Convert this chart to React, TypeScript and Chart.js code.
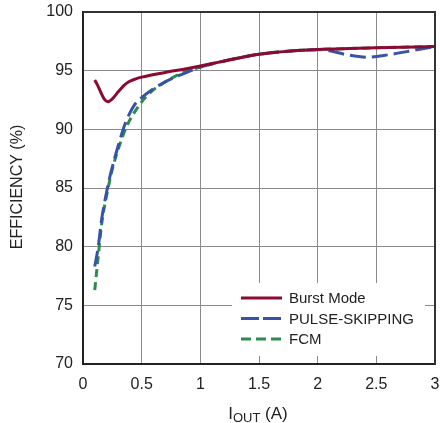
import React, { useEffect, useRef } from 'react';
import { Chart, registerables } from 'chart.js';

Chart.register(...registerables);

// ---- data ----
const xTickValues = [0, 0.5, 1, 1.5, 2, 2.5, 3];
const yTickValues = [70, 75, 80, 85, 90, 95, 100];

const seriesNames = ['Burst Mode', 'PULSE-SKIPPING', 'FCM'];

const burstX = [0.1, 0.125, 0.15, 0.18, 0.21, 0.25, 0.3, 0.35, 0.39, 0.45, 0.5, 0.7, 0.87, 1.0, 1.17, 1.5, 1.8, 2.0, 2.5, 3.0];
const burstY = [94.2, 93.75, 93.2, 92.6, 92.35, 92.6, 93.2, 93.75, 94.05, 94.3, 94.45, 94.85, 95.15, 95.4, 95.75, 96.4, 96.7, 96.8, 96.95, 97.05];

const pulseX = [0.1, 0.13, 0.16, 0.2, 0.23, 0.3, 0.36, 0.44, 0.5, 0.585, 0.7, 0.87, 1.0, 1.17, 1.5, 1.8, 2.0, 2.1, 2.25, 2.42, 2.6, 2.8, 3.0];
const pulseY = [78.3, 80.0, 82.4, 84.6, 86.0, 88.6, 90.5, 92.1, 92.7, 93.35, 94.05, 94.8, 95.3, 95.75, 96.4, 96.7, 96.8, 96.7, 96.35, 96.15, 96.35, 96.7, 97.05];

const fcmX = [0.1, 0.13, 0.16, 0.2, 0.25, 0.3, 0.37, 0.49, 0.58, 0.68, 0.8, 1.0, 1.17, 1.5, 1.8, 2.0, 2.5, 3.0];
const fcmY = [76.3, 79.2, 82.0, 84.3, 86.6, 88.3, 90.2, 92.2, 93.2, 93.9, 94.6, 95.3, 95.75, 96.4, 96.7, 96.8, 96.95, 97.05];

const yTitleText = 'EFFICIENCY (%)';
const xTitleMain = 'I';
const xTitleSub = 'OUT';
const xTitleUnit = ' (A)';

// ---- styles ----
const COLORS = ['#8c0a30', '#3553a8', '#2e8b4a'];
const LINE_DASH = [[], [16, 6], [8, 5]];
const LEGEND_DASH = [[], [18, 4], [10, 5]];
const FONT = '"Liberation Sans", Arial, sans-serif';
const TEXT_COLOR = '#222';

const toPoints = (xs: number[], ys: number[]) => xs.map((x, i) => ({ x, y: ys[i] }));

const legendPlugin = {
  id: 'insideLegend',
  afterDatasetsDraw(chart: any) {
    const { ctx, chartArea } = chart;
    const { right, bottom } = chartArea;
    ctx.save();
    ctx.fillStyle = '#ffffff';
    ctx.fillRect(right - 203, bottom - 81, 193, 73);
    chart.data.datasets.forEach((ds: any, i: number) => {
      const y = bottom - 66 + i * 20.5;
      ctx.beginPath();
      ctx.setLineDash(LEGEND_DASH[i]);
      ctx.strokeStyle = ds.borderColor;
      ctx.lineWidth = 3;
      ctx.moveTo(right - 194, y);
      ctx.lineTo(right - 153, y);
      ctx.stroke();
      ctx.setLineDash([]);
      ctx.fillStyle = TEXT_COLOR;
      ctx.font = '15px ' + FONT;
      ctx.textBaseline = 'middle';
      ctx.textAlign = 'left';
      ctx.fillText(ds.label, right - 146, y + 1);
    });
    ctx.restore();
  },
};

const framePlugin = {
  id: 'frameAndTitles',
  afterDraw(chart: any) {
    const { ctx, chartArea } = chart;
    const { left, right, top, bottom } = chartArea;
    ctx.save();
    ctx.strokeStyle = '#333';
    ctx.lineWidth = 2;
    ctx.beginPath();
    ctx.moveTo(left, top);
    ctx.lineTo(right, top);
    ctx.lineTo(right, bottom);
    ctx.stroke();

    // y title
    ctx.fillStyle = TEXT_COLOR;
    ctx.font = '16px ' + FONT;
    ctx.textAlign = 'center';
    ctx.textBaseline = 'middle';
    ctx.translate(18, (top + bottom) / 2 - 1);
    ctx.rotate(-Math.PI / 2);
    ctx.fillText(yTitleText, 0, 0);
    ctx.setTransform(1, 0, 0, 1, 0, 0);

    // x title with subscript
    const mainFont = '17px ' + FONT;
    const subFont = '13px ' + FONT;
    ctx.textAlign = 'left';
    ctx.textBaseline = 'alphabetic';
    ctx.font = mainFont;
    const w1 = ctx.measureText(xTitleMain).width;
    const w3 = ctx.measureText(xTitleUnit).width;
    ctx.font = subFont;
    const w2 = ctx.measureText(xTitleSub).width;
    const total = w1 + w2 + w3;
    let x = (left + right) / 2 - 1 - total / 2;
    const base = bottom + 55;
    ctx.font = mainFont;
    ctx.fillText(xTitleMain, x, base);
    x += w1;
    ctx.font = subFont;
    ctx.fillText(xTitleSub, x, base + 3);
    x += w2;
    ctx.font = mainFont;
    ctx.fillText(xTitleUnit, x, base);
    ctx.restore();
  },
};

const clearPadding = (s: any) => {
  s.paddingLeft = 0;
  s.paddingRight = 0;
  s.paddingTop = 0;
  s.paddingBottom = 0;
};

export default function App() {
  const ref = useRef<HTMLCanvasElement | null>(null);

  useEffect(() => {
    if (!ref.current) return;
    const series = [toPoints(burstX, burstY), toPoints(pulseX, pulseY), toPoints(fcmX, fcmY)];
    const chart = new Chart(ref.current, {
      type: 'line',
      data: {
        datasets: series.map((data, i) => ({
          label: seriesNames[i],
          data,
          borderColor: COLORS[i],
          backgroundColor: COLORS[i],
          borderWidth: 3,
          borderDash: LINE_DASH[i],
          pointRadius: 0,
          fill: false,
          cubicInterpolationMode: 'monotone' as const,
        })),
      },
      options: {
        responsive: false,
        animation: false,
        layout: { padding: { top: 12, right: 5, left: 0, bottom: 0 } },
        plugins: {
          legend: { display: false },
          tooltip: { enabled: false },
        },
        scales: {
          x: {
            type: 'linear',
            min: 0,
            max: 3,
            afterBuildTicks: (s: any) => {
              s.ticks = xTickValues.map((v) => ({ value: v }));
            },
            afterFit: (s: any) => {
              s.height = 59;
              clearPadding(s);
            },
            ticks: {
              callback: (v: any) => String(v),
              font: { family: FONT, size: 16 },
              color: TEXT_COLOR,
              padding: 11,
              maxRotation: 0,
            },
            grid: { color: '#8a8a8a', lineWidth: 1, drawTicks: false },
            border: { color: '#222', width: 2 },
          },
          y: {
            type: 'linear',
            min: 70,
            max: 100,
            afterBuildTicks: (s: any) => {
              s.ticks = yTickValues.map((v) => ({ value: v }));
            },
            afterFit: (s: any) => {
              s.width = 83;
              clearPadding(s);
            },
            ticks: {
              callback: (v: any) => String(v),
              font: { family: FONT, size: 16 },
              color: TEXT_COLOR,
              padding: 10,
            },
            grid: { color: '#8a8a8a', lineWidth: 1, drawTicks: false },
            border: { color: '#222', width: 2 },
          },
        },
      },
      plugins: [legendPlugin, framePlugin],
    });
    return () => chart.destroy();
  }, []);

  return (
    <div style={{ position: 'absolute', left: 0, top: 0, width: 440, height: 423, background: '#fff' }}>
      <canvas ref={ref} width={440} height={423} style={{ display: 'block' }} />
    </div>
  );
}
